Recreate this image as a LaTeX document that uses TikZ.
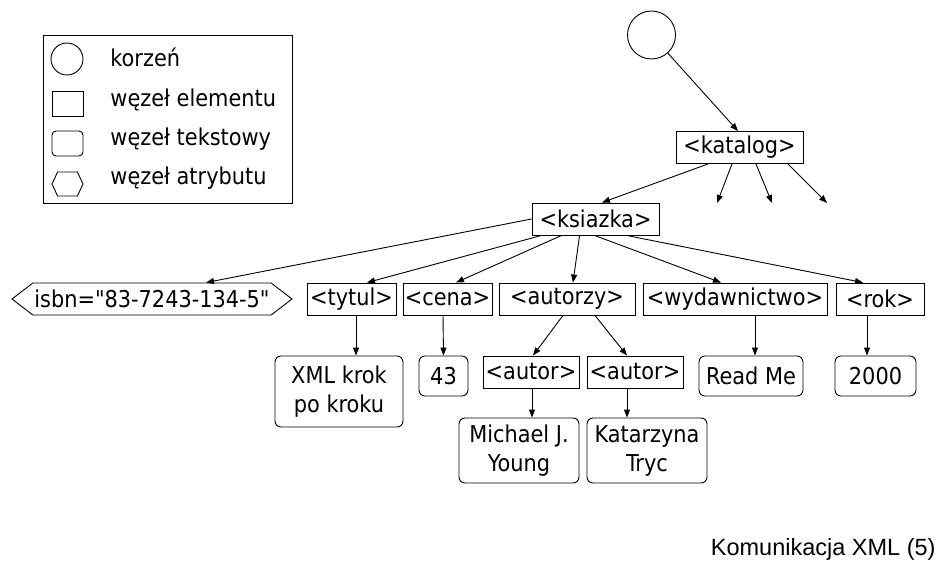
\documentclass[tikz,border=0pt]{standalone}
\usepackage{fontspec}
\setmainfont{DejaVu Sans Condensed}[Ligatures=TeXOff]
\newfontfamily\footfont{Liberation Sans}
\usetikzlibrary{arrows.meta, shapes.symbols}

\begin{document}
\begin{tikzpicture}[
  x=1pt, y=-1pt,
  line width=0.9pt,
  font=\fontsize{23.2}{29}\selectfont,
  root/.style={circle, draw, inner sep=0pt, minimum size=48pt},
  elem/.style={rectangle, draw, inner sep=0pt, minimum height=32pt},
  txt/.style={rectangle, draw, rounded corners=6pt, inner sep=0pt, align=center},
  attr/.style={signal, signal to=west and east, draw, inner sep=0pt,
    minimum height=32pt, signal pointer angle=75},
  arrow/.style={-{Triangle[length=8pt, width=6pt]}}
]
  \useasboundingbox (0,0) rectangle (939,569);

  % legend
  \node[draw, inner sep=0pt, minimum width=249pt, minimum height=168pt] (legend) at (167.5,119) {};
  \node[root, minimum size=32pt] (lroot) at (67,59) {};
  \node[elem, minimum width=31pt, minimum height=25pt] (lelem) at (67.5,103.5) {};
  \node[txt, minimum width=31pt, minimum height=25pt, rounded corners=4pt] (ltxt) at (67.5,143.5) {};
  \node[attr, minimum width=31pt, minimum height=24pt, signal pointer angle=130] (lattr) at (67.5,184) {};
  \node[anchor=base west, inner sep=0pt] (lrootlbl) at (110,67) {korzeń};
  \node[anchor=base west, inner sep=0pt] (lelemlbl) at (110,107) {węzeł elementu};
  \node[anchor=base west, inner sep=0pt] (ltxtlbl) at (110,146) {węzeł tekstowy};
  \node[anchor=base west, inner sep=0pt] (lattrlbl) at (110,185) {węzeł atrybutu};

  % tree
  \node[root] (top) at (651.5,35) {};
  \node[elem, minimum width=127pt] (katalog) at (739.5,147.5) {<katalog>};
  \node[elem, minimum width=127pt] (ksiazka) at (595.5,219) {<ksiazka>};

  \node[attr, minimum width=280pt] (isbn) at (152,299) {isbn="83-7243-134-5"};
  \node[elem, minimum width=89pt] (tytul) at (351.5,299) {<tytul>};
  \node[elem, minimum width=89pt] (cena) at (447.5,299) {<cena>};
  \node[elem, minimum width=136pt] (autorzy) at (567,299) {<autorzy>};
  \node[elem, minimum width=184pt] (wyd) at (735,299) {<wydawnictwo>};
  \node[elem, minimum width=88pt] (rok) at (880,299) {<rok>};

  \node[txt, minimum width=128pt, minimum height=71pt] (xml) at (339,391.5) {XML krok\\po kroku};
  \node[txt, minimum width=49pt, minimum height=40pt] (c43) at (443.5,376) {43};
  \node[elem, minimum width=96pt] (autor1) at (531,372) {<autor>};
  \node[elem, minimum width=96pt] (autor2) at (635,372) {<autor>};
  \node[txt, minimum width=104pt, minimum height=40pt] (readme) at (751,376) {Read Me};
  \node[txt, minimum width=81pt, minimum height=40pt] (y2000) at (875.5,376) {2000};

  \node[txt, minimum width=120pt, minimum height=65pt] (young) at (519,450.5) {Michael J.\\Young};
  \node[txt, minimum width=120pt, minimum height=65pt] (tryc) at (647,450.5) {Katarzyna\\Tryc};

  \coordinate (free1) at (717,203);
  \coordinate (free2) at (772,203);
  \coordinate (free3) at (827,203);

  \draw[arrow] (top) -- ([xshift=-1.5pt]katalog.north);
  \draw[arrow] ([xshift=-31.5pt]katalog.south) -- ([xshift=6.5pt]ksiazka.north);
  \draw[arrow] ([xshift=-7.5pt]katalog.south) -- (free1);
  \draw[arrow] ([xshift=16.5pt]katalog.south) -- (free2);
  \draw[arrow] ([xshift=48.5pt]katalog.south) -- (free3);

  \draw[arrow] (ksiazka.west) -- ([xshift=54pt]isbn.north);
  \draw[arrow] ([xshift=10pt]ksiazka.south west) -- ([xshift=15.5pt]tytul.north);
  \draw[arrow] ([xshift=30pt]ksiazka.south west) -- ([xshift=8.5pt]cena.north);
  \draw[arrow] ([xshift=48pt]ksiazka.south west) -- ([xshift=6pt]autorzy.north);
  \draw[arrow] ([xshift=63pt]ksiazka.south west) -- ([xshift=-14pt]wyd.north);
  \draw[arrow] ([xshift=95pt]ksiazka.south west) -- ([xshift=-17pt]rok.north);

  \draw[arrow] ([xshift=4.5pt]tytul.south) -- ([xshift=17pt]xml.north);
  \draw[arrow] ([xshift=-4.5pt]cena.south) -- (c43.north);
  \draw[arrow] ([xshift=-4pt]autorzy.south) -- ([xshift=2pt]autor1.north);
  \draw[arrow] ([xshift=28pt]autorzy.south) -- ([xshift=-8pt]autor2.north);
  \draw[arrow] ([xshift=20pt]wyd.south) -- ([xshift=4pt]readme.north);
  \draw[arrow] ([xshift=-13pt]rok.south) -- ([xshift=-8.5pt]y2000.north);
  \draw[arrow] ([xshift=1pt]autor1.south) -- ([xshift=13pt]young.north);
  \draw[arrow] ([xshift=-8pt]autor2.south) -- ([xshift=-20pt]tryc.north);

  \node[anchor=base east, inner sep=0pt, font=\footfont\fontsize{23.5}{28}\selectfont] (foot) at (936,555) {Komunikacja XML (5)};
\end{tikzpicture}
\end{document}
